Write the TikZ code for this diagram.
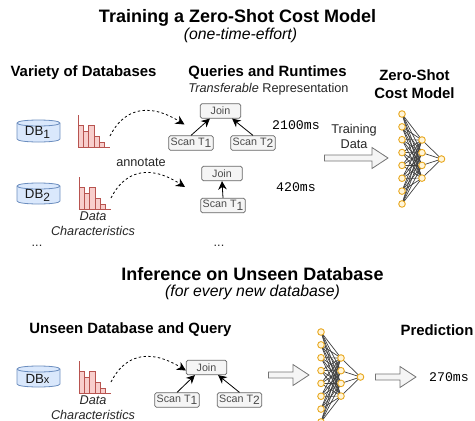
\documentclass[tikz,border=0pt]{standalone}
\usepackage{fontspec}
\setmainfont{Liberation Sans}
\setmonofont{Liberation Mono}
\usetikzlibrary{arrows.meta}
\definecolor{histred}{HTML}{B85450}
\definecolor{histfill}{HTML}{F8CECC}
\definecolor{dbblue}{HTML}{6C8EBF}
\definecolor{dbfill}{HTML}{DAE8FC}
\definecolor{nnor}{HTML}{E8A820}
\definecolor{nnfill}{HTML}{FFF5DA}
\tikzset{
  ttl/.style={font=\fontsize{18}{20}\selectfont\bfseries,inner sep=0},
  sub/.style={font=\fontsize{15.8}{18}\selectfont\itshape,inner sep=0},
  head/.style={font=\fontsize{14.9}{17.5}\selectfont\bfseries,inner sep=0,align=center},
  lab/.style={font=\fontsize{12.7}{15}\selectfont,inner sep=0,align=center,text=black!85},
  ms/.style={font=\fontsize{13.2}{14}\ttfamily,inner sep=0},
  opbox/.style={draw=black!60,fill=black!4,rounded corners=1.6pt,line width=.7pt,inner sep=0,
     font=\fontsize{10.7}{12}\selectfont,text=black!70,minimum height=14.5pt},
  joinbox/.style={opbox,minimum width=40.5pt},
  scanbox/.style={opbox,minimum width=44.5pt},
  flow/.style={-{Stealth[length=8.5pt,width=8.5pt]},line width=.8pt},
  dashflow/.style={-{Stealth[length=9pt,width=9pt]},line width=.8pt,dash pattern=on 2.4pt off 2.4pt},
  fat/.style={draw=black!55,fill=black!4,line width=.8pt,line join=miter},
  neuron/.style={circle,draw=nnor,fill=nnfill,line width=.9pt,minimum size=6.6pt,inner sep=0},
  syn/.style={draw=black!75,line width=.7pt},
  dbtxt/.style={font=\fontsize{13.3}{15}\selectfont,inner sep=0,text=black!90},
}
\newcommand{\subd}[2]{\raisebox{-#2pt}{\fontsize{12}{12}\selectfont #1}}
\newcommand{\dbcyl}[3]{% x, top y, bottom y
  \draw[draw=dbblue,fill=dbfill,line width=.8pt]
    (#1-21.5,#2+3) .. controls (#1-21.5,#2-1) and (#1+21.5,#2-1) .. (#1+21.5,#2+3)
    -- (#1+21.5,#3-3) .. controls (#1+21.5,#3+1) and (#1-21.5,#3+1) .. (#1-21.5,#3-3) -- cycle;
  \draw[draw=dbblue,line width=.8pt]
    (#1-21.5,#2+3) .. controls (#1-21.5,#2+7) and (#1+21.5,#2+7) .. (#1+21.5,#2+3);
}
\newcommand{\hist}[2]{% x of axis, y of baseline
  \begin{scope}[shift={(#1,#2)}]
    \foreach \xa/\ha in {0/22,5.3/16,10.6/22,15.9/11,21.2/5}
      \draw[draw=histred,fill=histfill,line width=.8pt] (\xa,0) rectangle ++(5.3,-\ha);
    \draw[draw=histred,line width=.9pt] (0,-32) -- (0,0) -- (32,0);
  \end{scope}
}
\newcommand{\nnet}[3]{% prefix, x shift, y shift
  \begin{scope}[shift={(#2,#3)}]
    \foreach \i in {0,...,7} \coordinate (#1a\i) at (0,12.85*\i);
    \foreach \i in {0,...,3} \coordinate (#1b\i) at (20,26+12.7*\i);
    \coordinate (#1c) at (39.5,45);
    \foreach \i in {0,...,7} \foreach \j in {0,...,3} \draw[syn] (#1a\i) -- (#1b\j);
    \foreach \j in {0,...,3} \draw[syn] (#1b\j) -- (#1c);
    \foreach \i in {0,...,7} \node[neuron] at (#1a\i) {};
    \foreach \j in {0,...,3} \node[neuron] at (#1b\j) {};
    \node[neuron] at (#1c) {};
  \end{scope}
}
\newcommand{\fatarrow}[4]{% x start, x end, y, head length
  \draw[fat] (#1,#3-3) -- (#2-#4,#3-3) -- (#2-#4,#3-10.5) -- (#2,#3) -- (#2-#4,#3+10.5) -- (#2-#4,#3+3) -- (#1,#3+3) -- cycle;
}
\begin{document}
\begin{tikzpicture}[x=1pt,y=-1pt]
\useasboundingbox (0,0) rectangle (475,421);
% Titles
\node[ttl] (t1) at (237.5,17.5) {Training a Zero-Shot Cost Model};
\node[sub] (t1s) at (240.5,35) {(one-time-effort)};
\node[head] (h1) at (83.5,73) {Variety of Databases};
\node[head] (h2) at (267.5,73) {Queries and Runtimes};
\node[lab,font=\fontsize{12.7}{14}\selectfont] (h2s) at (268.5,89) {\textit{Transferable} Representation};
\node[head] (h3) at (414.5,84) {Zero-Shot\\Cost Model};
% Databases
\dbcyl{38.5}{120}{142}
\node[dbtxt] (db1) at (37.5,132.5) {DB\subd{1}{3}};
\dbcyl{38.5}{183}{204}
\node[dbtxt] (db2) at (37.5,195.5) {DB\subd{2}{3}};
\dbcyl{38.5}{366}{387}
\node[dbtxt] (dbx) at (37.5,379) {DB{\fontsize{11}{12}\selectfont x}};
% Histograms
\hist{78}{147}
\hist{79}{209}
\hist{79}{393}
\coordinate (h1o) at (110,136);
\coordinate (h2o) at (111,198);
\coordinate (h3o) at (111,382);
\coordinate (h1t) at (184.5,124.5);
\coordinate (h2t) at (185,187);
% Labels
\node[lab] (ann) at (141,162) {annotate};
\node[lab,font=\fontsize{12.7}{15}\selectfont\itshape] (dc1) at (93,223.5) {Data\\Characteristics};
\node[lab,font=\fontsize{12.7}{15}\selectfont\itshape] (dc2) at (93,407.5) {Data\\Characteristics};
\node[lab] (el1) at (37,246) {...};
\node[lab] (el2) at (219,246) {...};
% Plan 1
\node[joinbox] (j1) at (220.5,111) {Join};
\node[scanbox] (s11) at (191,143) {Scan T\subd{1}{2.5}};
\node[scanbox] (s12) at (253,143) {Scan T\subd{2}{2.5}};
\draw[flow] (s11.north) -- ([xshift=10pt]j1.south west);
\draw[flow] (s12.north) -- ([xshift=-9pt]j1.south east);
% Plan 2
\node[joinbox] (j2) at (222,173.5) {Join};
\node[scanbox] (s21) at (223,205.5) {Scan T\subd{1}{2.5}};
\draw[flow] (s21.north) -- (j2.south);
% Plan 3
\node[joinbox] (j3) at (206.5,367.5) {Join};
\node[scanbox] (s31) at (177,400) {Scan T\subd{1}{2.5}};
\node[scanbox] (s32) at (239.5,400) {Scan T\subd{2}{2.5}};
\draw[flow] (s31.north) -- ([xshift=9pt]j3.south west);
\draw[flow] (s32.north) -- ([xshift=-9pt]j3.south east);
% Dashed
\draw[dashflow] (h1o) .. controls (122,112) and (145,100) .. (h1t);
\draw[dashflow] (h2o) .. controls (123,174) and (146,162) .. (h2t);
\draw[dashflow] (h3o) .. controls (123,358) and (146,346) .. ([yshift=-3pt]j3.west);
% Runtimes
\node[ms] (r1) at (296,125) {2100ms};
\node[ms] (r2) at (296,187) {420ms};
\node[ms] (r3) at (449,377) {270ms};
% Training
\node[lab] (tr) at (354,136.5) {Training\\Data};
\fatarrow{324.5}{388}{158}{16}
\nnet{p}{402}{114}
% Inference
\node[ttl] (t2) at (252.5,274.5) {Inference on Unseen Database};
\node[sub] (t2s) at (252.5,292.5) {(for every new database)};
\node[head] (h4) at (130.5,330) {Unseen Database and Query};
\node[head] (h5) at (437,330) {Prediction};
\fatarrow{268.5}{309}{375}{16}
\begin{scope}
\clip (0,0) rectangle (475,421);
\nnet{q}{321}{332}
\end{scope}
\fatarrow{375.5}{416}{377}{16}
\end{tikzpicture}
\end{document}
